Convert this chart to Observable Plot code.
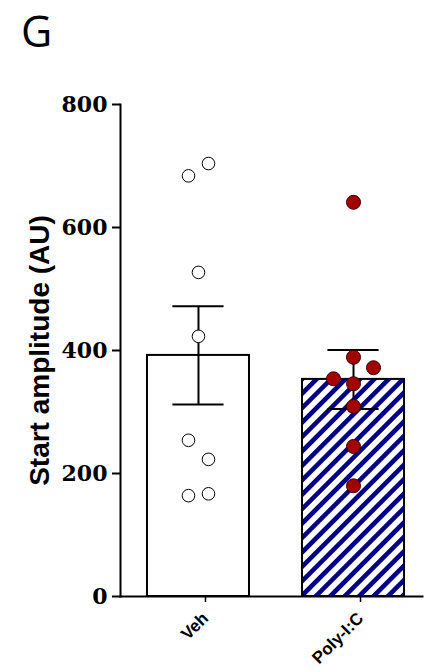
<!DOCTYPE html>
<html>
<head>
<meta charset="utf-8">
<script src="https://cdn.jsdelivr.net/npm/d3@7"></script>
<script src="https://cdn.jsdelivr.net/npm/@observablehq/plot@0.6"></script>
<style>
  html, body { margin: 0; padding: 0; background: #fff; }
  #chart { position: relative; width: 425px; height: 672px; }
</style>
</head>
<body>
<div id="chart"></div>
<script>
// ---- data ----
const groups = ["Veh", "Poly-I:C"];
const vehValues = [704, 684, 527, 423, 254, 223, 167, 164];
const vehSlots  = [1, -1, 0, 0, -1, 1, 1, -1];
const polyValues = [641, 389, 372, 354, 346, 309, 244, 180];
const polySlots  = [0, 0, 2, -2, 0, 0, 0, 0];
const means = [392, 353];
const sems  = [80, 48];
const yTicks = [0, 200, 400, 600, 800];
const yLabel = "Start amplitude (AU)";
const panelLabel = "G";

// ---- derived tables ----
const slotStep = 0.0645;   // horizontal spacing of scatter columns (x units)
const halfBar = 0.329;
const halfCap = 0.165;
const bars = groups.map((g, i) => ({i, g, mean: means[i], sem: sems[i]}));
const vehPts = vehValues.map((v, k) => ({x: 0 + vehSlots[k] * slotStep, y: v}));
const polyPts = polyValues.map((v, k) => ({x: 1 + polySlots[k] * slotStep, y: v}));

const defs = () => {
  const d = d3.create("svg:defs");
  const p = d.append("pattern")
    .attr("id", "hatch")
    .attr("patternUnits", "userSpaceOnUse")
    .attr("width", 10.2).attr("height", 10.2)
    .attr("patternTransform", "rotate(45)");
  p.append("rect").attr("width", 10.2).attr("height", 10.2).attr("fill", "white");
  p.append("rect").attr("width", 4.6).attr("height", 10.2).attr("fill", "#000088");
  return d.node();
};

const plot = Plot.plot({
  width: 425,
  height: 672,
  marginTop: 104,
  marginBottom: 76,
  marginLeft: 120,
  marginRight: 3,
  x: {type: "linear", domain: [-0.503, 1.445]},
  y: {domain: [0, 800]},
  style: {background: "white", color: "black"},
  marks: [
    defs,
    Plot.rectY(bars, {
      x1: d => d.i - halfBar, x2: d => d.i + halfBar, y1: 0, y2: "mean",
      fill: d => d.i === 0 ? "white" : "url(#hatch)",
      stroke: "black", strokeWidth: 2
    }),
    Plot.ruleX(bars, {x: "i", y1: d => d.mean - d.sem, y2: d => d.mean + d.sem, stroke: "black", strokeWidth: 2}),
    Plot.ruleY(bars, {y: d => d.mean + d.sem, x1: d => d.i - halfCap, x2: d => d.i + halfCap, stroke: "black", strokeWidth: 2}),
    Plot.ruleY(bars, {y: d => d.mean - d.sem, x1: d => d.i - halfCap, x2: d => d.i + halfCap, stroke: "black", strokeWidth: 2}),
    Plot.dot(vehPts, {x: "x", y: "y", r: 6.3, fill: "white", stroke: "black", strokeWidth: 1}),
    Plot.dot(polyPts, {x: "x", y: "y", r: 7, fill: "#a30000", stroke: "#3a0000", strokeWidth: 1}),
    Plot.frame({anchor: "left", stroke: "black", strokeWidth: 2}),
    Plot.frame({anchor: "bottom", stroke: "black", strokeWidth: 2}),
    Plot.axisY({
      ticks: yTicks, tickSize: 8, tickPadding: 5, strokeWidth: 2,
      fontSize: 22, fontWeight: "bold", fontFamily: "DejaVu Serif",
      label: null
    }),
    Plot.axisX({
      ticks: [0, 1], tickFormat: i => groups[i], tickSize: 6, tickPadding: 13,
      tickRotate: -45, strokeWidth: 1.5, dx: 7,
      fontSize: 17, fontWeight: "bold", fontFamily: "Liberation Sans",
      label: null
    }),
    Plot.text([yLabel], {
      text: d => d, frameAnchor: "left", rotate: -90, dx: -72,
      lineAnchor: "bottom", textAnchor: "middle",
      fontSize: 28, fontWeight: "bold", fontFamily: "Liberation Sans", fill: "black"
    })
  ]
});

document.getElementById("chart").appendChild(plot);
d3.select(plot).append("text")
  .attr("x", 21).attr("y", 47)
  .attr("text-anchor", "start")
  .attr("font-family", "Open Sans").attr("font-size", 43)
  .attr("fill", "black")
  .text(panelLabel);
</script>
</body>
</html>
